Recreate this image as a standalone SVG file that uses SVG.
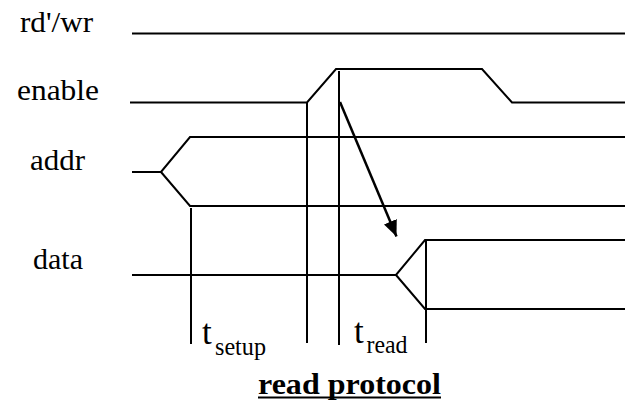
<svg xmlns="http://www.w3.org/2000/svg" width="625" height="402" viewBox="0 0 625 402">
<style>
.sig{fill:none;stroke:#000;stroke-width:2;stroke-linejoin:miter}
.arr{fill:none;stroke:#000;stroke-width:2.5}
.lbl{font-family:"Liberation Serif","Times New Roman",serif;font-size:29px;fill:#000}
.t{font-family:"Liberation Serif","Times New Roman",serif;font-size:35px;fill:#000}
.sub{font-family:"Liberation Serif","Times New Roman",serif;font-size:25px;fill:#000}
.title{font-family:"Liberation Serif","Times New Roman",serif;font-size:30px;font-weight:bold;fill:#000}
</style>
<defs>
<marker id="ah" markerUnits="userSpaceOnUse" markerWidth="16" markerHeight="14" refX="16" refY="7" orient="auto" viewBox="0 0 16 14">
<path d="M0,0 L16,7 L0,14 Z" fill="#000"/>
</marker>
</defs>
<g id="rdwr">
<text class="lbl" x="20" y="32" textLength="73" lengthAdjust="spacingAndGlyphs">rd'/wr</text>
<path class="sig" d="M132,33.5 H625"/>
</g>
<g id="enable">
<text class="lbl" x="17" y="99.5" textLength="82" lengthAdjust="spacingAndGlyphs">enable</text>
<path class="sig" d="M130,102.5 H307 L336,69 H482 L512,102.5 H625"/>
</g>
<g id="addr">
<text class="lbl" x="30" y="169.5" textLength="55" lengthAdjust="spacingAndGlyphs">addr</text>
<path class="sig" d="M132,172 H161 L190,137 H625 M161,172 L190,206 H625"/>
</g>
<g id="data">
<text class="lbl" x="33" y="269" textLength="50" lengthAdjust="spacingAndGlyphs">data</text>
<path class="sig" d="M132,275 H396 L425,240 H625 M396,275 L425,309 H625"/>
</g>
<g id="connectors">
<path class="sig" d="M191,208 V344 M307,102 V343 M339,71 V345 M426,240 V343"/>
<path class="arr" d="M340,102 L396.5,236.5" marker-end="url(#ah)"/>
</g>
<g id="tsetup">
<text class="t" x="202" y="344">t</text>
<text class="sub" x="215" y="355" textLength="51" lengthAdjust="spacingAndGlyphs">setup</text>
</g>
<g id="tread">
<text class="t" x="354" y="343">t</text>
<text class="sub" x="366.5" y="353" textLength="41" lengthAdjust="spacingAndGlyphs">read</text>
</g>
<g id="caption">
<text class="title" x="258" y="394" textLength="183" lengthAdjust="spacingAndGlyphs">read protocol</text>
<line x1="258" y1="397.5" x2="441" y2="397.5" stroke="#000" stroke-width="2"/>
</g>
</svg>
